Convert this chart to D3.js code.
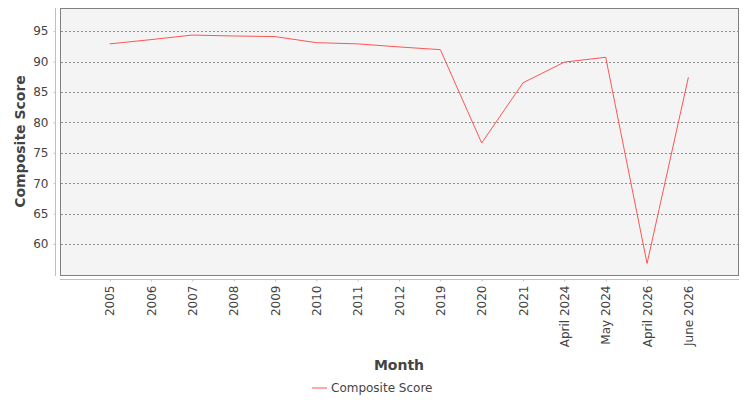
<!DOCTYPE html>
<html>
<head>
<meta charset="utf-8">
<script src="https://cdn.jsdelivr.net/npm/d3@7"></script>
<style>
  body { margin: 0; background: #fff; }
  svg { display: block; font-family: "DejaVu Sans", sans-serif; }
</style>
</head>
<body>
<svg id="chart"></svg>
<script>
const months = ['2005', '2006', '2007', '2008', '2009', '2010', '2011', '2012', '2019', '2020', '2021',
                'April 2024', 'May 2024', 'April 2026', 'June 2026'];
const scores = [92.9, 93.6, 94.35, 94.2, 94.1, 93.1, 92.9, 92.4, 91.95, 76.6, 86.5, 89.9, 90.7, 56.8, 87.4];
const yTicks = [60, 65, 70, 75, 80, 85, 90, 95];
const seriesName = 'Composite Score';

const w = 750, h = 400;
const plot = { left: 60, right: 738, top: 8, bottom: 275 };
const lineColor = '#ff5555';
const textColor = '#444444';
const font = '"DejaVu Sans", sans-serif';

const svg = d3.select('#chart').attr('width', w).attr('height', h);

const x = d3.scalePoint().domain(months).range([plot.left, plot.right]).padding(1.2);
const y = d3.scaleLinear().domain([54.9, 98.8]).range([plot.bottom, plot.top]);

// plot background + border
svg.append('rect')
   .attr('x', plot.left + 0.5).attr('y', plot.top + 0.5)
   .attr('width', plot.right - plot.left).attr('height', plot.bottom - plot.top)
   .attr('fill', '#f4f4f4').attr('stroke', '#808080');

// gridlines
svg.append('g')
   .selectAll('line')
   .data(yTicks)
   .join('line')
   .attr('x1', plot.left + 1).attr('x2', plot.right)
   .attr('y1', d => Math.round(y(d)) + 0.5).attr('y2', d => Math.round(y(d)) + 0.5)
   .attr('stroke', '#777').attr('stroke-width', 0.8)
   .attr('stroke-dasharray', '2,2');

// y axis (offset from plot)
const yAxis = svg.append('g')
   .attr('transform', `translate(${plot.left - 4.5},0)`)
   .call(d3.axisLeft(y).tickValues(yTicks).tickSize(2).tickPadding(5).tickFormat(d3.format('d')))
   .attr('font-family', font).attr('font-size', 12);
yAxis.select('.domain').attr('stroke', '#c0c0c0').attr('d', `M0,${plot.top}V${plot.bottom + 1}`);
yAxis.selectAll('.tick line').attr('stroke', '#c0c0c0');
yAxis.selectAll('.tick text').attr('fill', textColor);

// x axis (offset from plot)
const xAxis = svg.append('g')
   .attr('transform', `translate(0,${plot.bottom + 4.5})`)
   .call(d3.axisBottom(x).tickSize(2).tickPadding(4))
   .attr('font-family', font).attr('font-size', 12);
xAxis.select('.domain').attr('stroke', '#c0c0c0').attr('d', `M${plot.left},0H${plot.right + 1}`);
xAxis.selectAll('.tick line').attr('stroke', '#c0c0c0');
xAxis.selectAll('.tick text')
   .attr('fill', textColor)
   .attr('transform', 'rotate(-90)')
   .attr('text-anchor', 'end')
   .attr('x', -6).attr('y', 0).attr('dy', '0.35em');

// line
const line = d3.line().x((d, i) => x(months[i])).y(d => y(d));
svg.append('path')
   .datum(scores)
   .attr('d', line)
   .attr('fill', 'none')
   .attr('stroke', lineColor)
   .attr('stroke-width', 1);

// axis titles
svg.append('text')
   .attr('x', (plot.left + plot.right) / 2).attr('y', 370)
   .attr('text-anchor', 'middle')
   .style('font-size', '14px').style('font-weight', 'bold')
   .attr('fill', textColor)
   .text('Month');

svg.append('text')
   .attr('transform', `translate(25,${(plot.top + plot.bottom) / 2}) rotate(-90)`)
   .attr('text-anchor', 'middle')
   .style('font-size', '14px').style('font-weight', 'bold')
   .attr('fill', textColor)
   .text('Composite Score');

// legend
const legend = svg.append('g').attr('transform', 'translate(312,388)');
legend.append('line').attr('x1', 0).attr('x2', 15).attr('y1', 0).attr('y2', 0)
      .attr('stroke', lineColor).attr('stroke-width', 1);
legend.append('text').attr('x', 19).attr('y', 0).attr('dy', '0.35em')
      .style('font-size', '12px').attr('fill', textColor)
      .text(seriesName);
</script>
</body>
</html>
